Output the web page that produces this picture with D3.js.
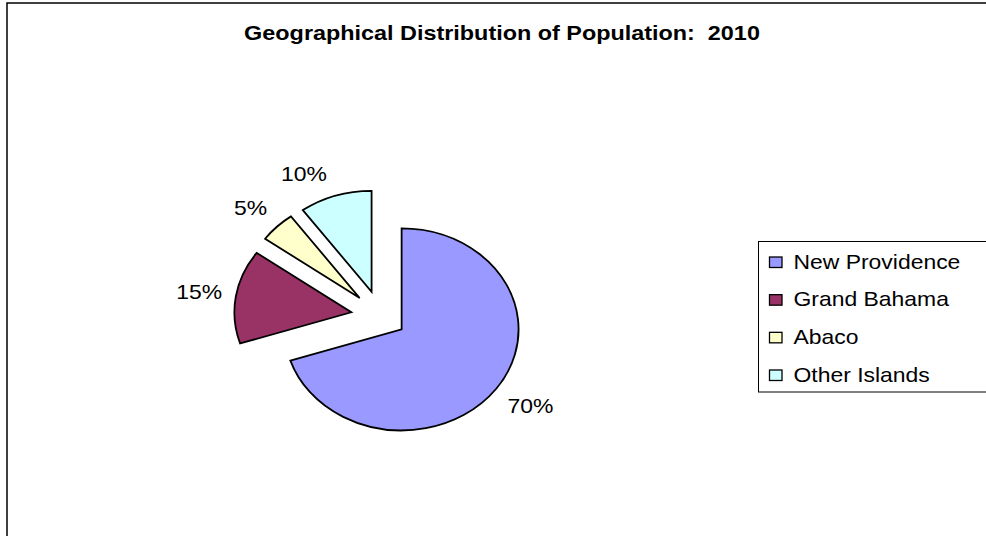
<!DOCTYPE html>
<html><head><meta charset="utf-8">
<script src="https://cdn.jsdelivr.net/npm/d3@7"></script>
<style>
html,body{margin:0;padding:0;background:#fff;}
svg{display:block;}
text{font-family:"Liberation Sans",Arial,sans-serif;fill:#000;}
</style></head>
<body>
<svg id="chart" width="986" height="536"></svg>
<script>
const title = "Geographical Distribution of Population:  2010";
const categories = ["New Providence", "Grand Bahama", "Abaco", "Other Islands"];
const shares = [70, 15, 5, 10];
const shareLabels = ["70%", "15%", "5%", "10%"];
const colors = ["#9999FF", "#993366", "#FFFFCC", "#CCFFFF"];
const explode = [0.22, 0.255, 0.255, 0.255];

const W = 986, H = 536;
const SX = 1.158;            // horizontal stretch of the whole picture
const cx = 380.8, cy = 316.3, R = 101;
const svg = d3.select("#chart");

// frame
svg.append("rect").attr("x", 7).attr("y", 3).attr("width", 1100).attr("height", 700)
  .attr("fill", "#fff").attr("stroke", "#000").attr("stroke-width", 1.5);

// title
svg.append("text")
  .attr("transform", `translate(502,40) scale(1.17,1)`)
  .attr("text-anchor", "middle").style("white-space", "pre")
  .attr("font-size", 20).attr("font-weight", "bold").text(title);

const pie = d3.pie().sort(null).value(d => d)(shares);
const arc = d3.arc().innerRadius(0).outerRadius(R);

const slices = pie.map((p, i) => {
  const mid = (p.startAngle + p.endAngle) / 2;
  const off = explode[i] * R;
  return {p, i, mid, vx: cx + Math.sin(mid) * off * SX, vy: cy - Math.cos(mid) * off};
});

const g = svg.append("g");
g.selectAll("path").data(slices).join("path")
  .attr("transform", d => `translate(${d.vx},${d.vy}) scale(${SX},1)`)
  .attr("d", d => arc(d.p))
  .attr("fill", d => colors[d.i])
  .attr("stroke", "#000").attr("stroke-width", 1.8)
  .attr("vector-effect", "non-scaling-stroke")
  .attr("stroke-linejoin", "miter");

// labels, outside end
const fs = 19.8, capH = fs * 0.716, boxH = 20, gap = 12;
const clamp = v => Math.max(-1, Math.min(1, v));
slices.forEach(d => {
  const t = svg.append("text").attr("font-size", fs).attr("text-anchor", "middle").text(shareLabels[d.i]);
  const w = t.node().getComputedTextLength() * SX;
  const ax = d.vx + Math.sin(d.mid) * (R + gap) * SX;
  const ay = d.vy - Math.cos(d.mid) * (R + gap);
  const x = ax + clamp(Math.sin(d.mid) * 3) * w / 2 - (Math.abs(Math.sin(d.mid)) < 0.5 ? 6 : 0);
  const y = ay + clamp(-Math.cos(d.mid) * 2) * boxH / 2;
  t.attr("transform", `translate(${x},${y + capH / 2}) scale(${SX},1)`);
});

// legend
const lg = svg.append("g");
lg.append("rect").attr("x", 758.5).attr("y", 241.5).attr("width", 300).attr("height", 150.5)
  .attr("fill", "#fff").attr("stroke", "#000").attr("stroke-width", 1);
const rowY = d3.scalePoint().domain(categories).range([268.5, 381.5]);
categories.forEach((c, i) => {
  const by = rowY(c);
  lg.append("rect").attr("x", 769.5).attr("y", by - 11.5).attr("width", 12.5).attr("height", 10.5)
    .attr("fill", colors[i]).attr("stroke", "#000").attr("stroke-width", 1.3);
  lg.append("text").attr("transform", `translate(793.5,${by}) scale(${SX},1)`)
    .attr("font-size", fs).text(c);
});
</script>
</body></html>
